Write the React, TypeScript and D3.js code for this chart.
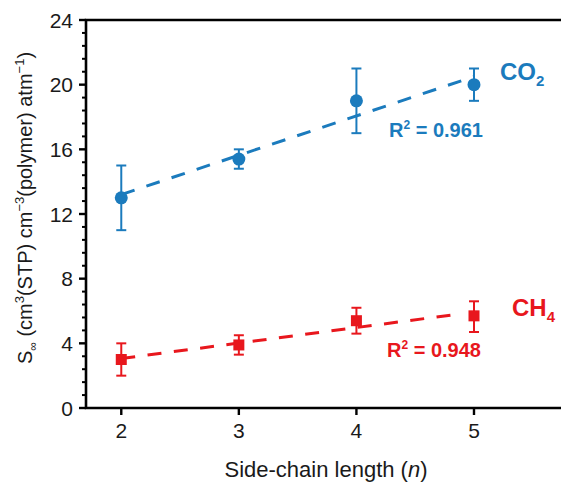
import React from "react";
import * as d3 from "d3";

const xValues = [2, 3, 4, 5];
const co2Values = [13.0, 15.4, 19.0, 20.0];
const co2Low = [11.0, 14.8, 17.0, 19.0];
const co2High = [15.0, 16.0, 21.0, 21.0];
const ch4Values = [3.0, 3.9, 5.4, 5.7];
const ch4Low = [2.0, 3.3, 4.6, 4.7];
const ch4High = [4.0, 4.5, 6.2, 6.6];
const co2FitX = [2, 5];
const co2FitY = [13.2, 20.5];
const ch4FitX = [2, 4.88];
const ch4FitY = [3.06, 5.82];
const xTicks = [2, 3, 4, 5];
const yTicks = [0, 4, 8, 12, 16, 20, 24];

const BLUE = "#1b7bbd";
const RED = "#e8171d";
const FONT = "Liberation Sans, Arial, sans-serif";

export default function App() {
  const W = 561, H = 482;
  const x = d3.scaleLinear().domain([1.7, 5.74]).range([86, 561]);
  const y = d3.scaleLinear().domain([0, 24]).range([408, 20]);
  const line = d3.line<[number, number]>().x(d => x(d[0])).y(d => y(d[1]));
  const minor = d3.range(0, 24.001, 0.8).filter(v => !yTicks.some(t => Math.abs(t - v) < 1e-6));
  const co2Fit = co2FitX.map((v, i) => [v, co2FitY[i]] as [number, number]);
  const ch4Fit = ch4FitX.map((v, i) => [v, ch4FitY[i]] as [number, number]);
  const capW = 5;
  return (
    <svg width={W} height={H} style={{ position: "absolute", left: 0, top: 0, background: "#fff" }} fontFamily={FONT}>
      {/* frame */}
      <path d={`M${x.range()[1]},${y(24)} H${x(1.7)} V${y(0)} H${x.range()[1]}`} fill="none" stroke="#000" strokeWidth={2.6} />
      {yTicks.map(t => (
        <g key={"yt" + t}>
          <line x1={x(1.7) - 7} x2={x(1.7)} y1={y(t)} y2={y(t)} stroke="#000" strokeWidth={2.4} />
          <text x={x(1.7) - 13} y={y(t) + 7.5} textAnchor="end" fontSize={21} fill="#1a1a1a">{t}</text>
        </g>
      ))}
      {minor.map(t => (
        <line key={"ym" + t} x1={x(1.7) - 4} x2={x(1.7)} y1={y(t)} y2={y(t)} stroke="#000" strokeWidth={2} />
      ))}
      {xTicks.map(t => (
        <g key={"xt" + t}>
          <line x1={x(t)} x2={x(t)} y1={y(0)} y2={y(0) + 7} stroke="#000" strokeWidth={2.4} />
          <text x={x(t)} y={438} textAnchor="middle" fontSize={21} fill="#1a1a1a">{t}</text>
        </g>
      ))}
      <text x={326} y={477} textAnchor="middle" fontSize={22} fill="#1a1a1a">
        Side-chain length (<tspan fontStyle="italic">n</tspan>)
      </text>
      <text transform={`translate(32,208) rotate(-90)`} textAnchor="middle" fontSize={20} fill="#1a1a1a">
        S<tspan fontSize={12} dy={5}>∞</tspan>
        <tspan dy={-5}> (cm</tspan><tspan fontSize={13} dy={-8}>3</tspan>
        <tspan dy={8}>(STP) cm</tspan><tspan fontSize={13} dy={-8}>−3</tspan>
        <tspan dy={8}>(polymer) atm</tspan><tspan fontSize={13} dy={-8}>−1</tspan>
        <tspan dy={8}>)</tspan>
      </text>

      {/* fit lines */}
      <path d={line(co2Fit) || ""} fill="none" stroke={BLUE} strokeWidth={3} strokeDasharray="14,12.5" />
      <path d={line(ch4Fit) || ""} fill="none" stroke={RED} strokeWidth={3} strokeDasharray="14,12.5" />

      {/* CO2 */}
      {xValues.map((xv, i) => (
        <g key={"c" + i} stroke={BLUE} strokeWidth={2}>
          <line x1={x(xv)} x2={x(xv)} y1={y(co2Low[i])} y2={y(co2High[i])} />
          <line x1={x(xv) - capW} x2={x(xv) + capW} y1={y(co2Low[i])} y2={y(co2Low[i])} />
          <line x1={x(xv) - capW} x2={x(xv) + capW} y1={y(co2High[i])} y2={y(co2High[i])} />
          <circle cx={x(xv)} cy={y(co2Values[i])} r={6.5} fill={BLUE} stroke="none" />
        </g>
      ))}
      {/* CH4 */}
      {xValues.map((xv, i) => (
        <g key={"m" + i} stroke={RED} strokeWidth={2}>
          <line x1={x(xv)} x2={x(xv)} y1={y(ch4Low[i])} y2={y(ch4High[i])} />
          <line x1={x(xv) - capW} x2={x(xv) + capW} y1={y(ch4Low[i])} y2={y(ch4Low[i])} />
          <line x1={x(xv) - capW} x2={x(xv) + capW} y1={y(ch4High[i])} y2={y(ch4High[i])} />
          <rect x={x(xv) - 5.5} y={y(ch4Values[i]) - 5.5} width={11} height={11} fill={RED} stroke="none" />
        </g>
      ))}

      <text x={500} y={80} fontSize={24} fontWeight="bold" fill={BLUE}>
        CO<tspan fontSize={15} dy={6}>2</tspan>
      </text>
      <text x={389} y={137} fontSize={20} fontWeight="bold" fill={BLUE}>
        R<tspan fontSize={12} dy={-8}>2</tspan><tspan dy={8}> = 0.961</tspan>
      </text>
      <text x={512} y={316} fontSize={24} fontWeight="bold" fill={RED}>
        CH<tspan fontSize={15} dy={6}>4</tspan>
      </text>
      <text x={387} y={357} fontSize={20} fontWeight="bold" fill={RED}>
        R<tspan fontSize={12} dy={-8}>2</tspan><tspan dy={8}> = 0.948</tspan>
      </text>
    </svg>
  );
}
